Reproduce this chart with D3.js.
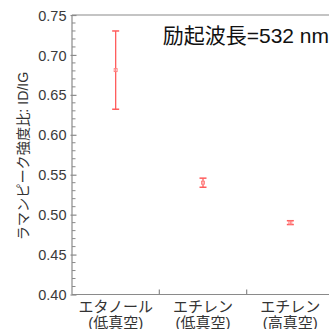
<!DOCTYPE html>
<html><head><meta charset="utf-8">
<script src="https://cdn.jsdelivr.net/npm/d3@7"></script>
<style>
html,body{margin:0;padding:0;background:#fff;}
svg{display:block;}
text{font-family:"Liberation Sans","Noto Sans CJK JP",sans-serif;}
</style></head>
<body>
<script>
const categories = ["エタノール\n(低真空)", "エチレン\n(低真空)", "エチレン\n(高真空)"];
const values = [0.681, 0.540, 0.490];
const errors = [0.049, 0.0057, 0.0024];
const yMajorTicks = [0.40, 0.45, 0.50, 0.55, 0.60, 0.65, 0.70, 0.75];
const yTickLabels = ["0.40", "0.45", "0.50", "0.55", "0.60", "0.65", "0.70", "0.75"];
const yLabel = "ラマンピーク強度比: ID/IG";
const annotation = "励起波長=532 nm";

const W = 329, H = 329;
const m = {left: 72, top: 15, right: -5, bottom: 34.5};
const svg = d3.select("body").append("svg").attr("width", W).attr("height", H);

const x = d3.scaleBand().domain(d3.range(categories.length)).range([m.left, W - m.right]).padding(0);
const y = d3.scaleLinear().domain([0.40, 0.75]).range([H - m.bottom, m.top]);

const axisColor = "#8a8a8a";
// frame lines
svg.append("line").attr("x1", m.left).attr("x2", W).attr("y1", y(0.75)).attr("y2", y(0.75)).attr("stroke", axisColor).attr("stroke-width", 1.2);
svg.append("line").attr("x1", m.left).attr("x2", W).attr("y1", y(0.40)).attr("y2", y(0.40)).attr("stroke", axisColor).attr("stroke-width", 1.2);
svg.append("line").attr("x1", m.left).attr("x2", m.left).attr("y1", y(0.75)).attr("y2", y(0.40)).attr("stroke", axisColor).attr("stroke-width", 1.2);

// minor ticks
const minor = d3.range(0, 36).map(i => 0.40 + i * 0.01).filter(v => Math.abs((v * 100) % 5) > 0.01 && Math.abs((v * 100) % 5 - 5) > 0.01);
svg.append("g").selectAll("line").data(minor).join("line")
  .attr("x1", m.left).attr("x2", m.left + 3.5)
  .attr("y1", d => y(d)).attr("y2", d => y(d))
  .attr("stroke", axisColor).attr("stroke-width", 1);

// y axis major ticks & labels
const yAxis = d3.axisRight(y).tickValues(yMajorTicks).tickSize(6).tickFormat((d, i) => yTickLabels[i]);
const gy = svg.append("g").attr("transform", `translate(${m.left - 1.5},0)`).call(yAxis);
gy.select(".domain").remove();
gy.selectAll(".tick line").attr("stroke", axisColor).attr("stroke-width", 1.2);
gy.selectAll(".tick text").attr("x", -4).attr("text-anchor", "end")
  .attr("font-size", 14.5).attr("fill", "#3a3a3a").attr("dy", "0.35em");

// x axis boundary ticks
const bounds = [1, 2].map(i => x(i));
svg.append("g").selectAll("line").data(bounds).join("line")
  .attr("x1", d => d).attr("x2", d => d)
  .attr("y1", y(0.40)).attr("y2", y(0.40) - 5)
  .attr("stroke", axisColor).attr("stroke-width", 1.2);

// category labels
const cl = svg.append("g").selectAll("text").data(categories).join("text")
  .attr("text-anchor", "middle").attr("font-size", 15).attr("fill", "#333")
  .attr("font-family", "'Noto Sans CJK JP',sans-serif");
cl.each(function(d, i) {
  const lines = d.split("\n");
  const t = d3.select(this);
  lines.forEach((ln, j) => {
    t.append("tspan").attr("x", x(i) + x.bandwidth() / 2).attr("y", 312 + j * 16).text(ln);
  });
});

// error bars
const red = "#ff5c5c";
const cx = i => x(i) + x.bandwidth() / 2;
const eg = svg.append("g");
values.forEach((v, i) => {
  eg.append("line").attr("x1", cx(i)).attr("x2", cx(i)).attr("y1", y(v + errors[i])).attr("y2", y(v - errors[i]))
    .attr("stroke", red).attr("stroke-width", 1.3);
  [v + errors[i], v - errors[i]].forEach(e => {
    eg.append("line").attr("x1", cx(i) - 3.5).attr("x2", cx(i) + 3.5).attr("y1", y(e)).attr("y2", y(e))
      .attr("stroke", red).attr("stroke-width", 1.5);
  });
});
svg.append("g").selectAll("rect").data(values).join("rect")
  .attr("x", (d, i) => cx(i) - 1.5).attr("y", d => y(d) - 1.5)
  .attr("width", 3).attr("height", 3)
  .attr("fill", "#fff").attr("fill-opacity", 0.3).attr("stroke", "#ff8080").attr("stroke-width", 0.9);

// annotation
svg.append("text").attr("x", 329).attr("y", 43).attr("text-anchor", "end")
  .attr("font-size", 21).attr("fill", "#111")
  .attr("font-family", "'Noto Sans CJK JP',sans-serif").text(annotation);

// y label
svg.append("text").attr("transform", `translate(28,156) rotate(-90)`)
  .attr("text-anchor", "middle").attr("font-size", 14.2).attr("fill", "#333")
  .attr("font-family", "'Noto Sans CJK JP',sans-serif").text(yLabel);
</script>
</body></html>
